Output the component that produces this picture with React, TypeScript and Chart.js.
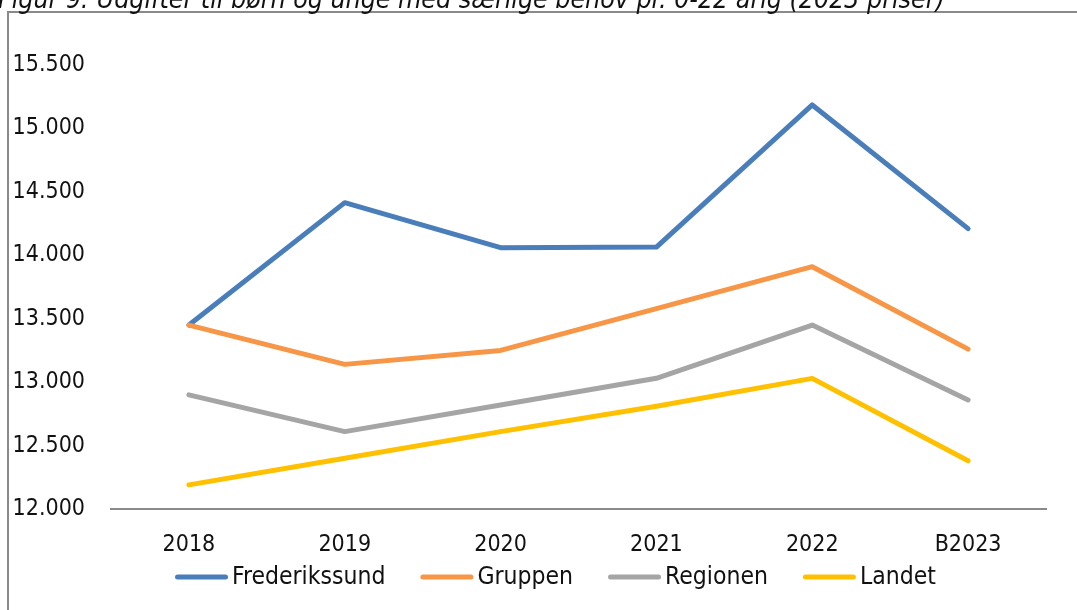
import { useEffect, useRef } from 'react';
import { Chart, registerables } from 'chart.js';

Chart.register(...registerables);

const TITLE = 'Figur 9: Udgifter til børn og unge med særlige behov pr. 0-22 årig (2023 priser)';
const categories = ['2018', '2019', '2020', '2021', '2022', 'B2023'];
const seriesNames = ['Frederikssund', 'Gruppen', 'Regionen', 'Landet'];
const frederikssund = [13450, 14415, 14060, 14065, 15185, 14210];
const gruppen = [13450, 13140, 13250, 13580, 13910, 13260];
const regionen = [12900, 12610, 12820, 13030, 13450, 12860];
const landet = [12190, 12400, 12610, 12810, 13030, 12380];
const seriesColors = ['#4A7EBB', '#F79646', '#A5A5A5', '#FFC000'];
const yMin = 12000;
const yMax = 15500;
const yStep = 500;

const FONT = "'DejaVu Sans Condensed', 'DejaVu Sans', sans-serif";
const TEXT = '#111111';
const AXIS = '#8a8a8a';

function fmt(v: number): string {
  return String(Math.round(v)).replace(/\B(?=(\d{3})+(?!\d))/g, '.');
}

const framePlugin = {
  id: 'frame',
  beforeDraw(chart: any) {
    const ctx = chart.ctx as CanvasRenderingContext2D;
    ctx.save();
    ctx.fillStyle = '#ffffff';
    ctx.fillRect(0, 0, chart.width, chart.height);
    ctx.fillStyle = AXIS;
    ctx.fillRect(7, 11, 2, chart.height - 11);
    ctx.fillRect(7, 11, chart.width - 7, 2);
    ctx.font = `italic 26.5px ${FONT}`;
    ctx.fillStyle = TEXT;
    ctx.textAlign = 'left';
    ctx.textBaseline = 'alphabetic';
    ctx.fillText(TITLE, -2, 8);
    ctx.restore();
  },
};

const legendPlugin = {
  id: 'lineLegend',
  afterDraw(chart: any) {
    const ctx = chart.ctx as CanvasRenderingContext2D;
    ctx.save();
    ctx.font = `24.5px ${FONT}`;
    ctx.textBaseline = 'middle';
    ctx.textAlign = 'left';
    let x = 175;
    const y = 577;
    chart.data.datasets.forEach((ds: any) => {
      ctx.strokeStyle = ds.borderColor;
      ctx.lineWidth = 5;
      ctx.lineCap = 'round';
      ctx.beginPath();
      ctx.moveTo(x + 2.5, y);
      ctx.lineTo(x + 50.5, y);
      ctx.stroke();
      x += 57;
      ctx.fillStyle = TEXT;
      ctx.fillText(ds.label, x, y + 1);
      x += ctx.measureText(ds.label).width + 35;
    });
    ctx.restore();
  },
};

export default function App() {
  const ref = useRef<HTMLCanvasElement>(null);
  useEffect(() => {
    const values = [frederikssund, gruppen, regionen, landet];
    const chart = new Chart(ref.current as HTMLCanvasElement, {
      type: 'line',
      data: {
        labels: categories,
        datasets: seriesNames.map((name, i) => ({
          label: name,
          data: values[i],
          borderColor: seriesColors[i],
          backgroundColor: seriesColors[i],
          borderWidth: 5,
          borderCapStyle: 'round',
          borderJoinStyle: 'round',
          pointRadius: 0,
          pointHoverRadius: 0,
          tension: 0,
          fill: false,
          clip: false as any,
          order: seriesNames.length - i,
        })),
      },
      options: {
        responsive: false,
        animation: false,
        events: [],
        layout: { padding: { top: 65, right: 31, left: 0, bottom: 0 } },
        plugins: {
          legend: { display: false },
          tooltip: { enabled: false },
          title: { display: false },
        },
        scales: {
          x: {
            type: 'category',
            offset: true,
            grid: { display: false, drawTicks: false },
            border: { display: true, color: AXIS, width: 2 },
            ticks: {
              font: { family: FONT, size: 23 },
              color: TEXT,
              padding: 22,
              maxRotation: 0,
              minRotation: 0,
              autoSkip: false,
            },
            afterFit(s: any) {
              s.height = 101;
            },
          },
          y: {
            min: yMin,
            max: yMax,
            grid: { display: false, drawTicks: false },
            border: { display: false },
            ticks: {
              stepSize: yStep,
              font: { family: FONT, size: 23 },
              color: TEXT,
              padding: 26,
              callback: (v: any) => fmt(Number(v)),
            },
            afterFit(s: any) {
              s.width = 111;
            },
          },
        },
      },
      plugins: [framePlugin, legendPlugin],
    });
    return () => chart.destroy();
  }, []);
  return (
    <div style={{ position: 'absolute', left: 0, top: 0, width: 1077, height: 610 }}>
      <canvas ref={ref} width={1077} height={610} style={{ display: 'block', width: 1077, height: 610 }} />
    </div>
  );
}
